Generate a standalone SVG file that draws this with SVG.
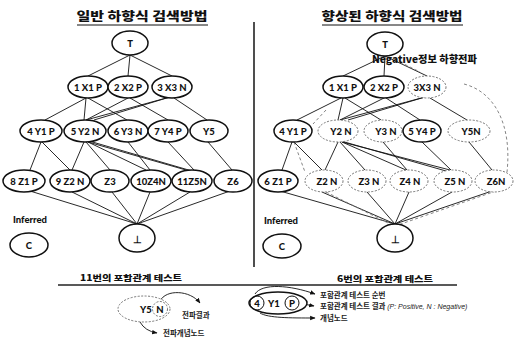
<svg xmlns="http://www.w3.org/2000/svg" width="519" height="343" viewBox="0 0 519 343">
<defs>
<style>
.n{fill:#fff;stroke:#111;stroke-width:1.5}
.d{fill:#fff;stroke:#666;stroke-width:0.9;stroke-dasharray:2 1.5}
.e{stroke:#111;stroke-width:0.9;fill:none}
.ed{stroke:#777;stroke-width:0.9;stroke-dasharray:3 2.5;fill:none}
.t{font-family:Lato,"Liberation Sans",sans-serif;font-weight:900;font-size:9.5px;fill:#111;text-anchor:middle;dominant-baseline:central}
.k{font-family:"Noto Sans CJK KR","Noto Sans",sans-serif;font-weight:900;fill:#111}
.kl{font-family:"Noto Sans CJK KR","Noto Sans",sans-serif;font-weight:bold;fill:#222;font-size:7.5px}
</style>
<marker id="ah" viewBox="0 0 10 10" refX="9" refY="5" markerWidth="6" markerHeight="6" orient="auto-start-reverse">
<path d="M0,1 L10,5 L0,9 z" fill="#111"/>
</marker>
</defs>
<rect width="519" height="343" fill="#fff"/>

<!-- titles and dividers -->
<text class="k" x="142" y="21" font-size="12" text-anchor="middle" textLength="131" lengthAdjust="spacingAndGlyphs">일반 하향식 검색방법</text>
<line x1="77" y1="25" x2="208" y2="25" stroke="#111" stroke-width="1"/>
<text class="k" x="392" y="21" font-size="12" text-anchor="middle" textLength="141" lengthAdjust="spacingAndGlyphs">향상된 하향식 검색방법</text>
<line x1="322" y1="25" x2="463" y2="25" stroke="#111" stroke-width="1"/>
<line x1="254" y1="22" x2="254" y2="267" stroke="#222" stroke-width="1.6"/>
<line x1="58" y1="285" x2="457" y2="285" stroke="#222" stroke-width="1.3"/>

<g id="connectors">
<!-- left -->
<path class="e" d="M130,55 L88,76 M130,55 L128,76 M130,55 L172,76"/>
<path class="e" d="M86,98 L45,120 M86,98 L84,120 M88,98 L127,120 M128,98 L86,120 M130,98 L168,120 M170,97 L86,120 M170,97 L94,120 M174,98 L207,120"/>
<path class="e" d="M41,142 L30,170 M42,142 L70,170 M84,142 L72,170 M86,142 L110,170 M88,142 L146,170 M88,142 L186,170 M89,141 L192,171 M128,142 L150,170 M168,142 L194,170 M208,142 L232,170"/>
<path class="e" d="M30,191 L137,224 M72,192 L137,224 M112,192 L137,224 M150,192 L137,224 M190,192 L137,224 M230,191 L137,224"/>
<!-- right -->
<path class="e" d="M385,56 L343,76 M385,56 L384,76 M385,56 L427,76"/>
<path class="e" d="M341,98 L297,120 M343,98 L338,120 M345,98 L381,120 M384,98 L340,120 M386,98 L420,120 M425,97 L340,120 M425,97 L348,120 M430,98 L467,120"/>
<path class="e" d="M292,142 L282,170 M294,142 L322,170 M338,142 L325,170 M340,142 L365,170 M342,142 L406,170 M342,142 L450,170 M341,141 L446,171 M383,142 L407,170 M422,142 L451,170 M469,142 L492,170"/>
<path class="e" d="M280,191 L395,224 M322,192 L395,224 M367,192 L395,224 M409,192 L395,224 M452,192 L395,224 M492,191 L395,224"/>
<path class="ed" d="M294,142 L305,172 M326,192 L392,225 M496,191 L398,225 M326,110 L313,124 M464,84 C495,92 512,125 507,172 M400,62 L420,72"/>
<!-- legend arrows -->
<path class="e" d="M160,301 C166,289 190,290 200,303" marker-end="url(#ah)"/>
<path class="e" d="M140,322 Q145,331 157,333" marker-end="url(#ah)"/>
<path class="e" d="M255,294 C262,283 290,285 315,294" marker-end="url(#ah)"/>
<path class="e" d="M298,303 L314,306" marker-end="url(#ah)"/>
<path class="e" d="M260,313 C268,318 290,318 315,318" marker-end="url(#ah)"/>
</g>

<!-- left nodes -->
<g id="L_T"><ellipse class="n" cx="130" cy="43" rx="18" ry="12"/><text class="t" x="130" y="43">T</text></g>
<g id="L_1X1P"><ellipse class="n" cx="88" cy="87" rx="20" ry="11"/><text class="t" x="88" y="87">1 X1 P</text></g>
<g id="L_2X2P"><ellipse class="n" cx="128" cy="87" rx="20" ry="11"/><text class="t" x="128" y="87">2 X2 P</text></g>
<g id="L_3X3N"><ellipse class="n" cx="172" cy="87" rx="20" ry="11"/><text class="t" x="172" y="87">3 X3 N</text></g>
<g id="L_4Y1P"><ellipse class="n" cx="41" cy="131" rx="21" ry="11"/><text class="t" x="41" y="131">4 Y1 P</text></g>
<g id="L_5Y2N"><ellipse class="n" cx="85" cy="131" rx="21" ry="11"/><text class="t" x="85" y="131">5 Y2 N</text></g>
<g id="L_6Y3N"><ellipse class="n" cx="128" cy="131" rx="20" ry="11"/><text class="t" x="128" y="131">6 Y3 N</text></g>
<g id="L_7Y4P"><ellipse class="n" cx="168" cy="131" rx="20" ry="11"/><text class="t" x="168" y="131">7 Y4 P</text></g>
<g id="L_Y5"><ellipse class="n" cx="209" cy="131" rx="19" ry="11"/><text class="t" x="209" y="131">Y5</text></g>
<g id="L_8Z1P"><ellipse class="n" cx="24" cy="181" rx="21" ry="11"/><text class="t" x="24" y="181">8 Z1 P</text></g>
<g id="L_9Z2N"><ellipse class="n" cx="70" cy="181" rx="20" ry="11"/><text class="t" x="70" y="181">9 Z2 N</text></g>
<g id="L_Z3"><ellipse class="n" cx="110" cy="181" rx="19" ry="11"/><text class="t" x="110" y="181">Z3</text></g>
<g id="L_10Z4N"><ellipse class="n" cx="151" cy="181" rx="20" ry="11"/><text class="t" x="151" y="181">10Z4N</text></g>
<g id="L_11Z5N"><ellipse class="n" cx="192" cy="181" rx="20" ry="11"/><text class="t" x="192" y="181">11Z5N</text></g>
<g id="L_Z6"><ellipse class="n" cx="233" cy="181" rx="19" ry="11"/><text class="t" x="233" y="181">Z6</text></g>
<g id="L_bottom"><ellipse class="n" cx="137" cy="238" rx="18" ry="14"/><text class="t" x="137" y="239">⊥</text></g>
<g id="L_inferred"><text class="t" x="30" y="219" font-size="9">Inferred</text><ellipse class="n" cx="29" cy="245" rx="19" ry="12"/><text class="t" x="29" y="245">C</text></g>

<!-- right nodes -->
<g id="R_T"><ellipse class="n" cx="385" cy="44" rx="18" ry="12"/><text class="t" x="385" y="44">T</text></g>
<text class="k" x="372" y="63" font-size="10" textLength="105" lengthAdjust="spacingAndGlyphs">Negative정보 하향전파</text>
<g id="R_1X1P"><ellipse class="n" cx="343" cy="87" rx="20" ry="11"/><text class="t" x="343" y="87">1 X1 P</text></g>
<g id="R_2X2P"><ellipse class="n" cx="384" cy="87" rx="20" ry="11"/><text class="t" x="384" y="87">2 X2 P</text></g>
<g id="R_3X3N"><ellipse class="d" cx="427" cy="87" rx="19" ry="11"/><text class="t" x="427" y="87">3X3 N</text></g>
<g id="R_4Y1P"><ellipse class="n" cx="293" cy="131" rx="19" ry="11"/><text class="t" x="293" y="131">4 Y1 P</text></g>
<g id="R_Y2N"><ellipse class="d" cx="338" cy="131" rx="20" ry="11"/><text class="t" x="341" y="131">Y2 N</text></g>
<g id="R_Y3N"><ellipse class="d" cx="383" cy="131" rx="19" ry="11"/><text class="t" x="386" y="131">Y3 N</text></g>
<g id="R_5Y4P"><ellipse class="n" cx="422" cy="131" rx="19" ry="11"/><text class="t" x="422" y="131">5 Y4 P</text></g>
<g id="R_Y5N"><ellipse class="d" cx="469" cy="131" rx="21" ry="11"/><text class="t" x="471" y="131">Y5N</text></g>
<g id="R_6Z1P"><ellipse class="n" cx="278" cy="181" rx="20" ry="11"/><text class="t" x="278" y="181">6 Z1 P</text></g>
<g id="R_Z2N"><ellipse class="d" cx="324" cy="181" rx="19" ry="11"/><text class="t" x="327" y="181">Z2 N</text></g>
<g id="R_Z3N"><ellipse class="d" cx="367" cy="181" rx="19" ry="11"/><text class="t" x="369" y="181">Z3 N</text></g>
<g id="R_Z4N"><ellipse class="d" cx="409" cy="181" rx="19" ry="11"/><text class="t" x="410" y="181">Z4 N</text></g>
<g id="R_Z5N"><ellipse class="d" cx="453" cy="181" rx="19" ry="11"/><text class="t" x="455" y="181">Z5 N</text></g>
<g id="R_Z6N"><ellipse class="d" cx="494" cy="181" rx="19" ry="11"/><text class="t" x="496" y="181">Z6N</text></g>
<g id="R_bottom"><ellipse class="n" cx="395" cy="238" rx="18" ry="14"/><text class="t" x="395" y="239">⊥</text></g>
<g id="R_inferred"><text class="t" x="281" y="220" font-size="9">Inferred</text><ellipse class="n" cx="282" cy="246" rx="19" ry="12"/><text class="t" x="282" y="246">C</text></g>

<!-- legend left -->
<g id="legend_left">
<text class="k" x="131" y="281" font-size="8.5" text-anchor="middle" textLength="102" lengthAdjust="spacingAndGlyphs">11번의 포함관계 테스트</text>
<ellipse class="d" cx="144" cy="309" rx="26" ry="13" fill="none"/>
<circle class="d" cx="160" cy="309" r="7.5"/>
<text class="t" x="146" y="309" font-size="11">Y5</text>
<text class="t" x="160" y="309" font-size="11">N</text>
<text class="kl" x="182" y="318">전파결과</text>
<text class="kl" x="163" y="336">전파개념노드</text>
</g>

<!-- legend right -->
<g id="legend_right">
<text class="k" x="385" y="282" font-size="8.5" text-anchor="middle" textLength="96" lengthAdjust="spacingAndGlyphs">6번의 포함관계 테스트</text>
<ellipse class="n" cx="278" cy="303" rx="29" ry="11"/>
<circle cx="257" cy="303" r="7" fill="none" stroke="#111" stroke-width="1"/>
<circle cx="292" cy="303" r="7" fill="none" stroke="#111" stroke-width="1"/>
<text class="t" x="257" y="303" font-size="11">4</text>
<text class="t" x="274" y="303" font-size="11">Y1</text>
<text class="t" x="292" y="303" font-size="11">P</text>
<text class="kl" x="320" y="298">포함관계 테스트 순번</text>
<text class="kl" x="320" y="309">포함관계 테스트 결과 <tspan font-family="'Liberation Sans',sans-serif" font-weight="normal" font-style="italic" font-size="7">(P: Positive, N : Negative)</tspan></text>
<text class="kl" x="320" y="321">개념노드</text>
</g>
</svg>
